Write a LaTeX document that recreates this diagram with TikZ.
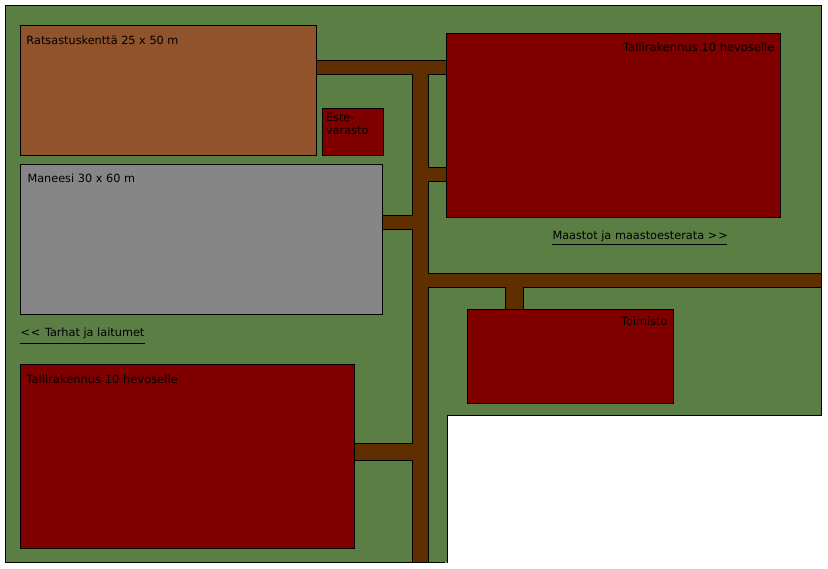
\documentclass[tikz,border=0pt]{standalone}
\usepackage{fontspec}
\setmainfont{DejaVu Sans}
\definecolor{nurmi}{HTML}{5B7E45}
\definecolor{tie}{HTML}{5F2F00}
\definecolor{kentta}{HTML}{90532B}
\definecolor{maneesi}{HTML}{868686}
\definecolor{talli}{HTML}{800000}
\tikzset{
  alue/.style={draw,line width=1pt,outer sep=0pt,inner sep=0pt,anchor=north west},
  teksti/.style={inner sep=0pt,outer sep=0pt,font=\fontsize{11.3}{13}\selectfont,text=black,align=left},
  tallinimi/.style={teksti,font=\fontsize{11.5}{13}\selectfont},
}
\begin{document}
\begin{tikzpicture}[x=1pt,y=-1pt,line width=1pt]
\useasboundingbox (0,0) rectangle (828,569);
% tontti
\draw[fill=nurmi] (445,562.5) -- (5.5,562.5) -- (5.5,5.5) -- (821.5,5.5) -- (821.5,415.5) -- (447.5,415.5) -- (447.5,562.5);
% tiet
\draw[fill=tie] (316.5,60.5) -- (446.5,60.5) -- (446.5,74.5) -- (428.5,74.5) -- (428.5,167.5) -- (446.5,167.5)
  -- (446.5,181.5) -- (428.5,181.5) -- (428.5,273.5) -- (821.5,273.5) -- (821.5,287.5) -- (523.5,287.5)
  -- (523.5,309.5) -- (505.5,309.5) -- (505.5,287.5) -- (428.5,287.5) -- (428.5,562.5) -- (412.5,562.5)
  -- (412.5,460.5) -- (354.5,460.5) -- (354.5,443.5) -- (412.5,443.5) -- (412.5,229.5) -- (382.5,229.5)
  -- (382.5,215.5) -- (412.5,215.5) -- (412.5,74.5) -- (316.5,74.5) -- cycle;
% rakennukset
\node[alue,fill=kentta,minimum width=296pt,minimum height=130pt] (kentta) at (20.5,25.5) {};
\node[alue,fill=talli,minimum width=61pt,minimum height=47pt] (varasto) at (322.5,108.5) {};
\node[alue,fill=maneesi,minimum width=362pt,minimum height=150pt] (halli) at (20.5,164.5) {};
\node[alue,fill=talli,minimum width=334pt,minimum height=184pt] (talliA) at (446.5,33.5) {};
\node[alue,fill=talli,minimum width=334pt,minimum height=184pt] (talliB) at (20.5,364.5) {};
\node[alue,fill=talli,minimum width=206pt,minimum height=94pt] (toimisto) at (467.5,309.5) {};
% tekstit
\node[teksti,anchor=base west] (kenttaT) at ([xshift=6pt,yshift=-19.5pt]kentta.north west) {Ratsastuskenttä 25 x 50 m};
\node[teksti,anchor=base west] (varastoT) at ([xshift=3.5pt,yshift=-26pt]varasto.north west) {Este-\\varasto};
\node[teksti,anchor=base west] (halliT) at ([xshift=7pt,yshift=-18.5pt]halli.north west) {Maneesi 30 x 60 m};
\node[tallinimi,anchor=base east] (talliAT) at ([xshift=-6pt,yshift=-18.5pt]talliA.north east) {Tallirakennus 10 hevoselle};
\node[tallinimi,anchor=base west] (talliBT) at ([xshift=6pt,yshift=-19.5pt]talliB.north west) {Tallirakennus 10 hevoselle};
\node[teksti,anchor=base east] (toimistoT) at ([xshift=-6pt,yshift=-16.5pt]toimisto.north east) {Toimisto};
% linkit
\node[teksti,anchor=base west] (tarhat) at (20.5,337) {<\kern1pt< \kern1pt Tarhat ja laitumet};
\node[teksti,anchor=base west] (maastot) at (552.5,239.5) {Maastot ja maastoesterata >\kern1pt>};
\coordinate (tarhatA) at (20,343.5);
\coordinate (tarhatB) at (145,343.5);
\coordinate (maastotA) at (552,244.5);
\coordinate (maastotB) at (727,244.5);
\draw (tarhatA) -- (tarhatB);
\draw (maastotA) -- (maastotB);
\end{tikzpicture}
\end{document}
